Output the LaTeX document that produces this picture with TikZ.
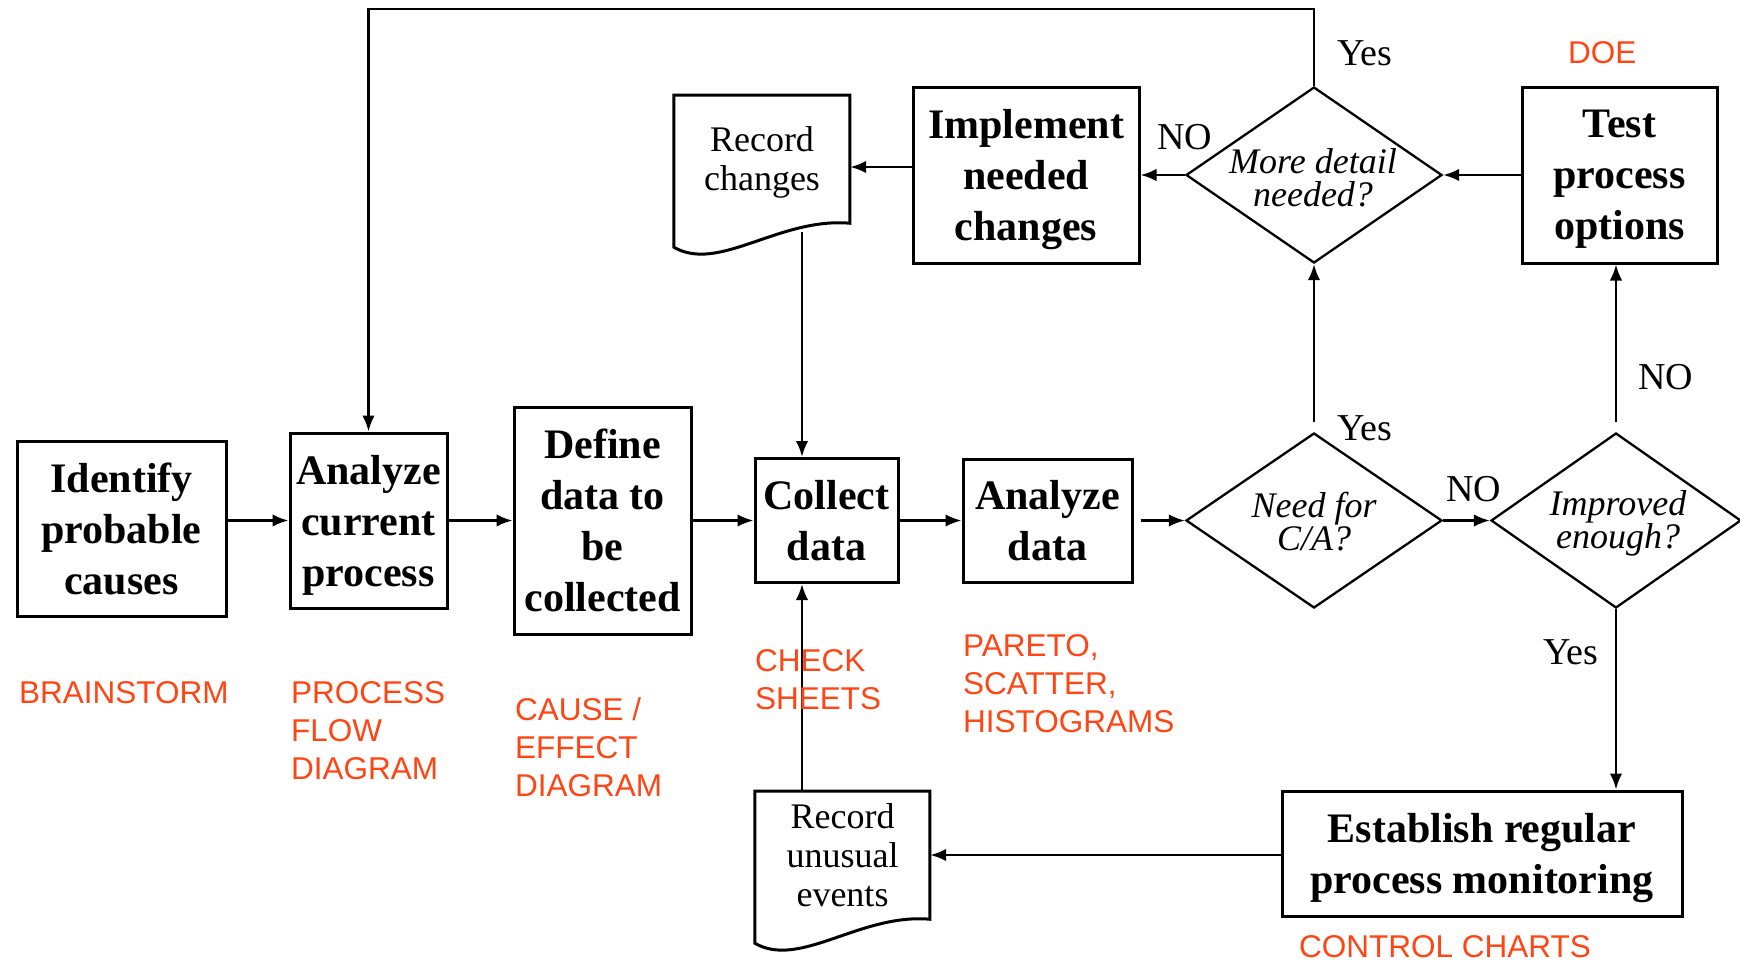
\documentclass[tikz,border=0pt]{standalone}
\usepackage{fontspec}
\setmainfont{Liberation Serif}
\newfontfamily\toolfont{Liberation Sans}
\usetikzlibrary{shapes.geometric,arrows.meta,calc}
\definecolor{toolred}{RGB}{255,69,20}
\begin{document}
\begin{tikzpicture}[x=1pt,y=-1pt,
  box/.style={draw, line width=3pt, inner sep=0pt, align=center, text depth=0pt,
    font=\fontsize{42}{51}\selectfont\bfseries},
  decision/.style={draw, diamond, line width=2.3pt, inner sep=0pt},
  question/.style={align=center, inner sep=0pt,
    font=\fontsize{36}{33}\selectfont\itshape},
  doc/.style={inner sep=0pt, align=center, text depth=0pt,
    font=\fontsize{36}{39}\selectfont},
  docline/.style={line width=3pt, line join=miter},
  flow/.style={line width=2.5pt, -{Latex[length=16pt,width=12.5pt]}},
  answer/.style={font=\fontsize{38}{40}\selectfont, inner sep=0pt, anchor=west},
  tool/.style={font=\toolfont\fontsize{31.5}{38}\selectfont, text=toolred,
    inner sep=0pt, anchor=west, align=left}
]
\useasboundingbox (0,0) rectangle (1740,962);

% process steps
\node[box, minimum width=209pt, minimum height=175pt] (idc) at (121.5,528.5) {Identify\\probable\\causes};
\node[box, minimum width=157pt, minimum height=175pt] (ac) at (368.5,520.5) {Analyze\\current\\process};
\node[box, minimum width=177pt, minimum height=227pt] (dd) at (602.5,520.5) {Define\\data to\\be\\collected};
\node[box, minimum width=143pt, minimum height=124pt] (cd) at (826.5,520.5) {Collect\\data};
\node[box, minimum width=169pt, minimum height=123pt] (ad) at (1047.5,520.5) {Analyze\\data};
\node[box, minimum width=226pt, minimum height=176pt] (impl) at (1026,175) {Implement\\needed\\changes};
\node[box, minimum width=195pt, minimum height=176pt] (test) at (1619.5,175) {Test\\process\\options};
\node[box, minimum width=400pt, minimum height=125pt] (est) at (1482,853.5) {Establish regular\\process monitoring};

% decisions
\node[decision, minimum width=256pt, minimum height=175pt] (nd) at (1314,520.5) {};
\node[question] (ndt) at (1314,522) {Need for\\C/A?};
\node[decision, minimum width=250pt, minimum height=175pt] (imp) at (1616,520.5) {};
\node[question] (impt) at (1618,523) {Improved\\enough?};
\node[decision, minimum width=256pt, minimum height=176pt] (md) at (1314,175) {};
\node[question] (mdt) at (1313,178) {More detail\\needed?};

% documents
\node[doc, minimum width=176pt, minimum height=128pt] (rc) at (762,159) {Record\\changes};
\node[doc, minimum width=175pt, minimum height=128pt] (ru) at (842.5,855) {Record\\unusual\\events};
\draw[docline, shift={(rc.south west)}]
  (0,24) -- (0,-128) -- (176,-128) -- (176,0)
  .. controls (105,-6) and (45,50) .. (0,24) -- cycle;
\draw[docline, shift={(ru.south west)}]
  (0,24) -- (0,-128) -- (175,-128) -- (175,0)
  .. controls (105,-6) and (45,50) .. (0,24) -- cycle;

% connectors
\coordinate (vx) at (802,0);
\coordinate (loop) at (0,9);
\coordinate (rcin) at ([yshift=-8pt]rc.east);
\coordinate (rcout) at ($(vx |- rc.south)+(0,9)$);
\draw[flow] (idc.east |- ac.west) -- (ac.west);
\draw[flow] (ac.east) -- (dd.west);
\draw[flow] (dd.east) -- (cd.west);
\draw[flow] (cd.east) -- (ad.west);
\draw[flow, shorten <=7pt] (ad.east) -- (nd.west);
\draw[flow] (nd.east) -- (imp.west);
\draw[flow, shorten <=10pt] (nd.north) -- (md.south);
\draw[flow, shorten <=10pt] (imp.north) -- (imp.north |- test.south);
\draw[flow] (imp.south) -- (imp.south |- est.north);
\draw[flow] (est.west |- ru.east) -- (ru.east);
\draw[flow] (vx |- ru.north) -- (vx |- cd.south);
\draw[flow] (test.west) -- (md.east);
\draw[flow] (md.west) -- (impl.east);
\draw[flow] (impl.west |- rcin) -- (rcin);
\draw[flow] (rcout) -- (vx |- cd.north);
\draw[flow] (md.north) -- (md.north |- loop) -| (ac.north);

% branch answers
\node[answer] (a1) at (1337,53) {Yes};
\node[answer] (a2) at (1157,137) {NO};
\node[answer] (a3) at (1337,428) {Yes};
\node[answer] (a4) at (1446,489) {NO};
\node[answer] (a5) at (1638,377) {NO};
\node[answer] (a6) at (1543,652) {Yes};

% quality tools
\node[tool] (t1) at (1568,53) {DOE};
\node[tool] (t2) at (19,693) {BRAINSTORM};
\node[tool] (t3) at (291,731) {PROCESS\\FLOW\\DIAGRAM};
\node[tool] (t4) at (515,747) {CAUSE /\\EFFECT\\DIAGRAM};
\node[tool] (t5) at (755,680) {CHECK\\SHEETS};
\node[tool] (t6) at (963,684) {PARETO,\\SCATTER,\\HISTOGRAMS};
\node[tool] (t7) at (1299,947) {CONTROL CHARTS};
\end{tikzpicture}
\end{document}
